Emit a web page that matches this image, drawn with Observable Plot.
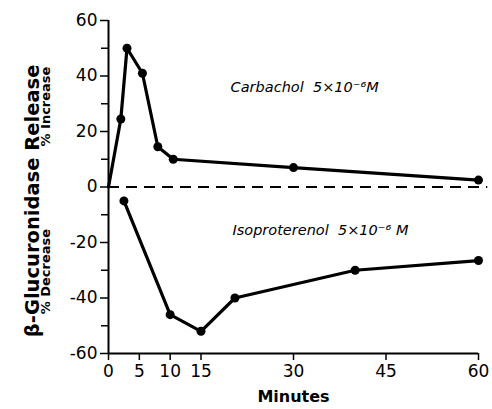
<!DOCTYPE html>
<html>
<head>
<meta charset="utf-8">
<script src="https://cdn.jsdelivr.net/npm/d3@7"></script>
<script src="https://cdn.jsdelivr.net/npm/@observablehq/plot@0.6"></script>
<style>
  html, body { margin: 0; padding: 0; background: #fff; }
  #chart svg { display: block; }
</style>
</head>
<body>
<div id="chart"></div>
<script>
// Carbachol 5x10^-6 M (% increase)
const carbMinutes = [0, 2, 3, 5.5, 8, 10.5, 30, 60];
const carbValues  = [0, 24.5, 50, 41, 14.5, 10, 7, 2.5];
// Isoproterenol 5x10^-6 M (% decrease)
const isoMinutes = [2.5, 10, 15, 20.5, 40, 60];
const isoValues  = [-5, -46, -52, -40, -30, -26.5];

const xTicks = [0, 5, 10, 15, 30, 45, 60];
const yTicks = [-60, -40, -20, 0, 20, 40, 60];
const yMinorTicks = [-50, -30, -10, 10, 30, 50];

const carb = carbMinutes.map((m, i) => ({m, v: carbValues[i]}));
const iso = isoMinutes.map((m, i) => ({m, v: isoValues[i]}));
const carbDots = carb.slice(1);

const font = "'DejaVu Sans', sans-serif";
const plain = d => String(d);

const chart = Plot.plot({
  width: 492,
  height: 409,
  marginLeft: 108,
  marginRight: 14,
  marginTop: 20,
  marginBottom: 56,
  style: {fontFamily: font, color: "#000", background: "#fff", overflow: "visible"},
  x: {domain: [0, 60]},
  y: {domain: [-60, 60]},
  marks: [
    Plot.axisY(yTicks, {tickSize: 8, tickPadding: 3, fontSize: 17, label: null, strokeWidth: 1.5, tickFormat: plain}),
    Plot.axisY(yMinorTicks, {tickSize: 7, tickFormat: () => "", label: null, strokeWidth: 1.5}),
    Plot.axisX(xTicks, {tickSize: 7, tickPadding: 4, fontSize: 17, tickFormat: plain, label: "Minutes", labelAnchor: "center", labelArrow: "none", labelOffset: 48, strokeWidth: 1.5}),
    Plot.ruleX([0], {y1: -60, y2: 60, strokeWidth: 2}),
    Plot.ruleY([-60], {x1: 0, x2: 60, strokeWidth: 2}),
    Plot.ruleY([0], {x1: 0, x2: 61.5, strokeWidth: 1.8, strokeDasharray: "11,7", clip: false}),
    Plot.line(carb, {x: "m", y: "v", strokeWidth: 3.2, stroke: "#000"}),
    Plot.dot(carbDots, {x: "m", y: "v", r: 4.5, fill: "#000"}),
    Plot.line(iso, {x: "m", y: "v", strokeWidth: 3.2, stroke: "#000"}),
    Plot.dot(iso, {x: "m", y: "v", r: 4.5, fill: "#000"}),
    Plot.text(["Carbachol  5×10⁻⁶M"], {x: 19.8, y: 36, textAnchor: "start", fontSize: 14.5, fontStyle: "italic", fontFamily: font}),
    Plot.text(["Isoproterenol  5×10⁻⁶ M"], {x: 20.1, y: -15.5, textAnchor: "start", fontSize: 14.5, fontStyle: "italic", fontFamily: font}),
    Plot.text(["β-Glucuronidase Release"], {frameAnchor: "left", textAnchor: "middle", y: -5, dx: -76, rotate: -90, fontSize: 19.5, fontWeight: "bold", fontFamily: font}),
    Plot.text(["% Increase"], {frameAnchor: "left", textAnchor: "middle", y: 29, dx: -63, rotate: -90, fontSize: 13, fontWeight: "bold", fontFamily: font, letterSpacing: "1px"}),
    Plot.text(["% Decrease"], {frameAnchor: "left", textAnchor: "middle", y: -30.5, dx: -63, rotate: -90, fontSize: 13, fontWeight: "bold", fontFamily: font, letterSpacing: "1px"})
  ]
});
document.getElementById("chart").appendChild(chart);
chart.querySelectorAll("[aria-label='x-axis label'] text, [aria-label='x-axis label']").forEach(e => { e.setAttribute("font-size", 16); e.setAttribute("font-weight", "bold"); });
</script>
</body>
</html>
